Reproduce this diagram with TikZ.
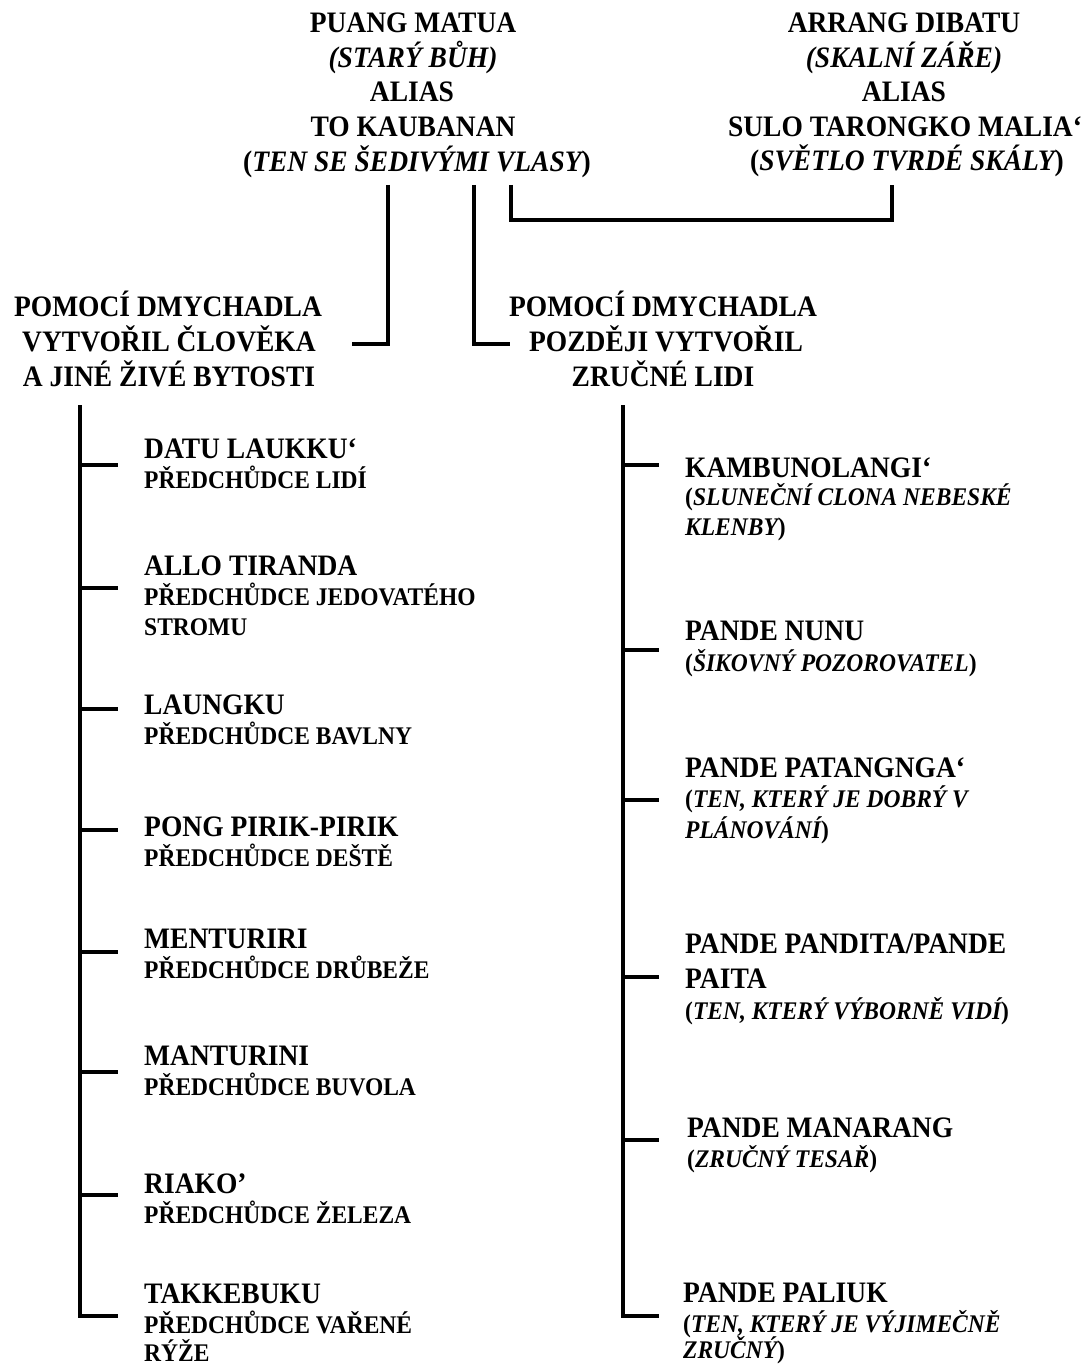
\documentclass[tikz,border=0pt]{standalone}
\usepackage{fontspec}
\usepackage{graphicx}
\setmainfont{Liberation Serif}
\newcommand\tl[1]{\scalebox{1}[1.08]{#1}}
\tikzset{
  lg/.style={inner sep=0pt, font=\fontsize{27.5}{31}\selectfont\bfseries},
  sm/.style={inner sep=0pt, font=\fontsize{23.5}{31}\selectfont\bfseries},
  ln/.style={line width=4.5pt, line join=miter},
  cl/.style={anchor=base},
  ll/.style={anchor=base west},
}
\begin{document}
\begin{tikzpicture}[x=1pt,y=-1pt]
\useasboundingbox (0,0) rectangle (1085,1364);
% top left
\node[lg,cl] (t1) at (413,33) {\tl{PUANG MATUA}};
\node[lg,cl] (t2) at (413,68) {\tl{\itshape (STARÝ BŮH)}};
\node[lg,cl] (t3) at (412,102) {\tl{ALIAS}};
\node[lg,cl] (t4) at (413,137) {\tl{TO KAUBANAN}};
\node[lg,cl] (t5) at (417,172) {\tl{({\itshape TEN SE ŠEDIVÝMI VLASY})}};
% top right
\node[lg,cl] (r1) at (904,33) {\tl{ARRANG DIBATU}};
\node[lg,cl] (r2) at (904,68) {\tl{\itshape (SKALNÍ ZÁŘE)}};
\node[lg,cl] (r3) at (904,102) {\tl{ALIAS}};
\node[lg,cl] (r4) at (905,137) {\tl{SULO TARONGKO MALIA‘}};
\node[lg,cl] (r5) at (907,171) {\tl{({\itshape SVĚTLO TVRDÉ SKÁLY})}};
% middle
\node[lg,cl] (ml1) at (168,316) {\tl{POMOCÍ DMYCHADLA}};
\node[lg,cl] (ml2) at (169,351) {\tl{VYTVOŘIL ČLOVĚKA}};
\node[lg,cl] (ml3) at (169,386) {\tl{A JINÉ ŽIVÉ BYTOSTI}};
\node[lg,cl] (mr1) at (663,316) {\tl{POMOCÍ DMYCHADLA}};
\node[lg,cl] (mr2) at (666,351) {\tl{POZDĚJI VYTVOŘIL}};
\node[lg,cl] (mr3) at (663,386) {\tl{ZRUČNÉ LIDI}};
% top connectors
\coordinate (a1) at (388,185);
\coordinate (a2) at (474,185);
\coordinate (a3) at (511,185);
\coordinate (a4) at (892,185);
\coordinate (b1) at (352,344);
\coordinate (b2) at (510,344);
\draw[ln] (a1) -- (a1 |- b1) -- (b1);
\draw[ln] (a2) -- (a2 |- b2) -- (b2);
\draw[ln] (a3) -- (511,220) -- (892,220) -- (a4);
% left list
\node[lg,ll] (l1a) at (144,458) {\tl{DATU LAUKKU‘}};
\node[sm,ll] (l1b) at (144,488) {\tl{PŘEDCHŮDCE LIDÍ}};
\node[lg,ll] (l2a) at (144,575) {\tl{ALLO TIRANDA}};
\node[sm,ll] (l2b) at (144,605) {\tl{PŘEDCHŮDCE JEDOVATÉHO}};
\node[sm,ll] (l2c) at (144,635) {\tl{STROMU}};
\node[lg,ll] (l3a) at (144,714) {\tl{LAUNGKU}};
\node[sm,ll] (l3b) at (144,744) {\tl{PŘEDCHŮDCE BAVLNY}};
\node[lg,ll] (l4a) at (144,836) {\tl{PONG PIRIK-PIRIK}};
\node[sm,ll] (l4b) at (144,866) {\tl{PŘEDCHŮDCE DEŠTĚ}};
\node[lg,ll] (l5a) at (144,948) {\tl{MENTURIRI}};
\node[sm,ll] (l5b) at (144,978) {\tl{PŘEDCHŮDCE DRŮBEŽE}};
\node[lg,ll] (l6a) at (144,1065) {\tl{MANTURINI}};
\node[sm,ll] (l6b) at (144,1095) {\tl{PŘEDCHŮDCE BUVOLA}};
\node[lg,ll] (l7a) at (144,1193) {\tl{RIAKO’}};
\node[sm,ll] (l7b) at (144,1223) {\tl{PŘEDCHŮDCE ŽELEZA}};
\node[lg,ll] (l8a) at (144,1303) {\tl{TAKKEBUKU}};
\node[sm,ll] (l8b) at (144,1333) {\tl{PŘEDCHŮDCE VAŘENÉ}};
\node[sm,ll] (l8c) at (144,1361) {\tl{RÝŽE}};
% left spine
\coordinate (ls) at (80,405);
\coordinate (lt1) at (80,465);
\coordinate (lt2) at (80,588);
\coordinate (lt3) at (80,709);
\coordinate (lt4) at (80,830);
\coordinate (lt5) at (80,952);
\coordinate (lt6) at (80,1072);
\coordinate (lt7) at (80,1195);
\coordinate (lt8) at (80,1316);
\draw[ln] (ls) -- (lt8) -- ++(38,0);
\foreach \k in {1,...,7} \draw[ln] (lt\k) -- ++(38,0);
% right list
\node[lg,ll] (q1a) at (685,477) {\tl{KAMBUNOLANGI‘}};
\node[sm,ll] (q1b) at (685,505) {\tl{({\itshape SLUNEČNÍ CLONA NEBESKÉ}}};
\node[sm,ll] (q1c) at (685,535) {\tl{{\itshape KLENBY})}};
\node[lg,ll] (q2a) at (685,640) {\tl{PANDE NUNU}};
\node[sm,ll] (q2b) at (685,671) {\tl{({\itshape ŠIKOVNÝ POZOROVATEL})}};
\node[lg,ll] (q3a) at (685,777) {\tl{PANDE PATANGNGA‘}};
\node[sm,ll] (q3b) at (685,807) {\tl{({\itshape TEN, KTERÝ JE DOBRÝ V}}};
\node[sm,ll] (q3c) at (685,838) {\tl{{\itshape PLÁNOVÁNÍ})}};
\node[lg,ll] (q4a) at (685,953) {\tl{PANDE PANDITA/PANDE}};
\node[lg,ll] (q4b) at (685,988) {\tl{PAITA}};
\node[sm,ll] (q4c) at (685,1019) {\tl{({\itshape TEN, KTERÝ VÝBORNĚ VIDÍ})}};
\node[lg,ll] (q5a) at (687,1137) {\tl{PANDE MANARANG}};
\node[sm,ll] (q5b) at (687,1167) {\tl{({\itshape ZRUČNÝ TESAŘ})}};
\node[lg,ll] (q6a) at (683,1302) {\tl{PANDE PALIUK}};
\node[sm,ll] (q6b) at (683,1332) {\tl{({\itshape TEN, KTERÝ JE VÝJIMEČNĚ}}};
\node[sm,ll] (q6c) at (683,1358) {\tl{{\itshape ZRUČNÝ})}};
% right spine
\coordinate (rs) at (623,405);
\coordinate (rt1) at (623,465);
\coordinate (rt2) at (623,650);
\coordinate (rt3) at (623,800);
\coordinate (rt4) at (623,977);
\coordinate (rt5) at (623,1140);
\coordinate (rt6) at (623,1316);
\draw[ln] (rs) -- (rt6) -- ++(36,0);
\foreach \k in {1,...,5} \draw[ln] (rt\k) -- ++(36,0);
\end{tikzpicture}
\end{document}
